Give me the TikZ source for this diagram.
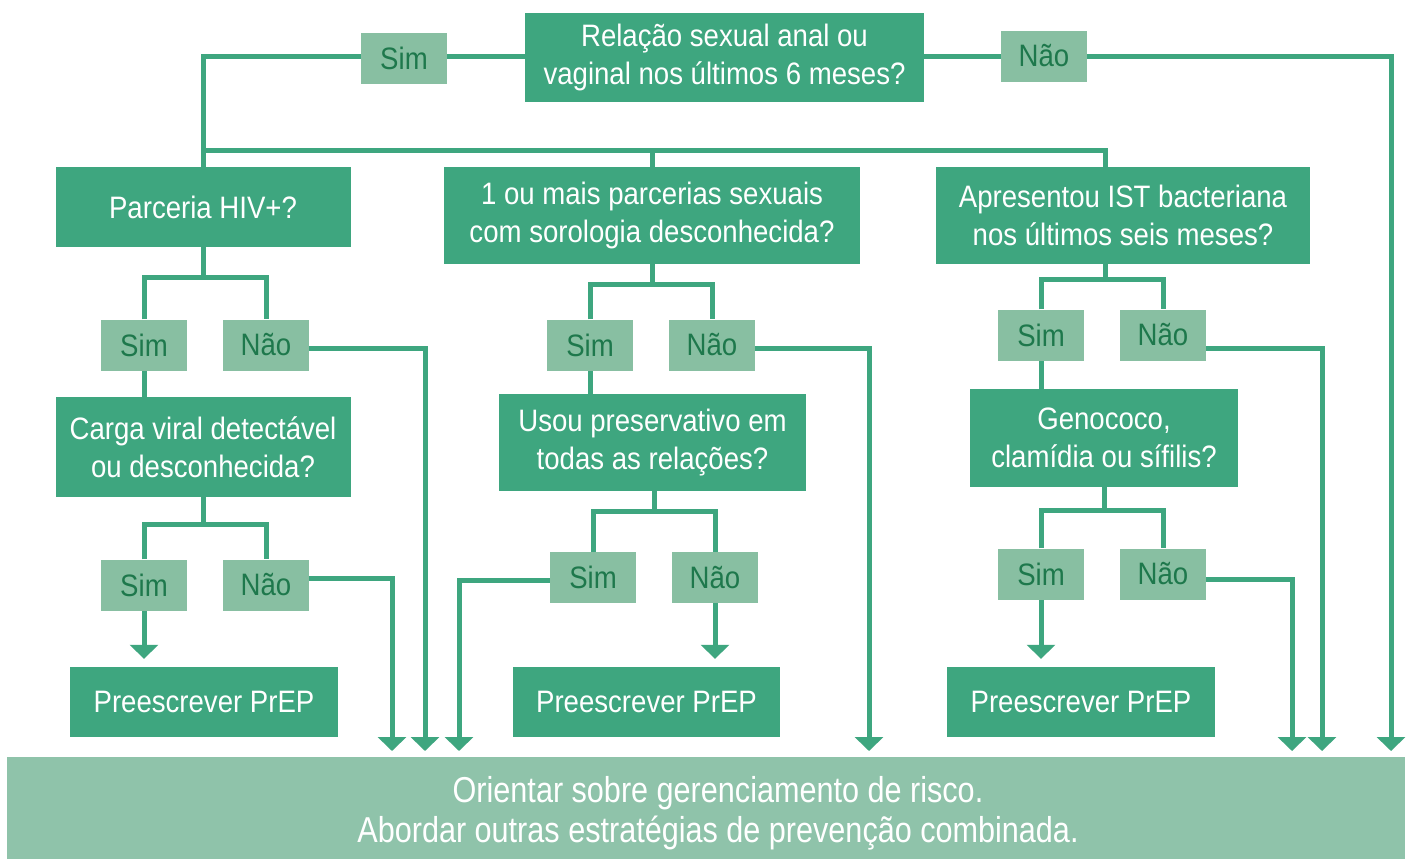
\documentclass[tikz,border=0pt]{standalone}
\usepackage{fontspec}
\setmainfont{Liberation Sans}[FakeStretch=0.89]
\newfontfamily\botfont{Liberation Sans}[FakeStretch=0.85]
\usetikzlibrary{arrows.meta,backgrounds,calc}
\definecolor{dk}{RGB}{62,166,127}
\definecolor{lt}{RGB}{136,191,162}
\definecolor{bt}{RGB}{143,195,170}
\definecolor{tx}{RGB}{30,120,76}
\begin{document}
\begin{tikzpicture}[x=1pt,y=-1pt,
  txt/.style={font=\fontsize{31}{38}\selectfont},
  box/.style={txt,fill=dk,text=white,inner sep=0pt,align=center},
  lab/.style={txt,fill=lt,text=tx,inner sep=0pt,minimum width=86pt,minimum height=51pt},
  con/.style={draw=dk,line width=5pt},
  arr/.style={con,-{Triangle[width=28pt,length=14pt]}}]
\useasboundingbox (0,0) rectangle (1412,860);
% nodes
\node[box,minimum width=399pt,minimum height=89pt] (q0) at (724.5,57.5) {Relação sexual anal ou\\vaginal nos últimos 6 meses?};
\node[lab] (s0) at (404,58.5) {Sim};
\node[lab] (n0) at (1044,56) {Não};
\node[box,minimum width=295pt,minimum height=80pt] (qA) at (203,207) {Parceria HIV+?};
\node[box,minimum width=416pt,minimum height=97pt] (qB) at (652,215.5) {1 ou mais parcerias sexuais\\com sorologia desconhecida?};
\node[box,minimum width=374pt,minimum height=97pt] (qC) at (1123,215.5) {Apresentou IST bacteriana\\nos últimos seis meses?};
\node[lab] (sA) at (144,345) {Sim};
\node[lab] (nA) at (266,345) {Não};
\node[box,minimum width=295pt,minimum height=100pt] (qA2) at (203,447) {Carga viral detectável\\ou desconhecida?};
\node[lab] (sA2) at (144,585) {Sim};
\node[lab] (nA2) at (266,585) {Não};
\node[box,minimum width=268pt,minimum height=70pt] (pA) at (204,702) {Preescrever PrEP};
\node[lab] (sB) at (590,345) {Sim};
\node[lab] (nB) at (712,345) {Não};
\node[box,minimum width=307pt,minimum height=97pt] (qB2) at (652.5,442.5) {Usou preservativo em\\todas as relações?};
\node[lab] (sB2) at (593,577.5) {Sim};
\node[lab] (nB2) at (715,577.5) {Não};
\node[box,minimum width=267pt,minimum height=70pt] (pB) at (646.5,702) {Preescrever PrEP};
\node[lab] (sC) at (1041,335) {Sim};
\node[lab] (nC) at (1163,335) {Não};
\node[box,minimum width=268pt,minimum height=98pt] (qC2) at (1104,438) {Genococo,\\clamídia ou sífilis?};
\node[lab] (sC2) at (1041,574) {Sim};
\node[lab] (nC2) at (1163,574) {Não};
\node[box,minimum width=268pt,minimum height=70pt] (pC) at (1081,702) {Preescrever PrEP};
\node[fill=bt,minimum width=1398pt,minimum height=102pt,inner sep=0pt] (bot) at (706,808) {};
\node[font=\botfont\fontsize{36}{40}\selectfont,text=white,align=center,inner sep=0pt] (botT) at (718,813) {Orientar sobre gerenciamento de risco.\\Abordar outras estratégias de prevenção combinada.};
% junctions and tips
\coordinate (jT) at (652,150);
\coordinate (jTC) at (1105,150);
\coordinate (jA) at (203,277);
\coordinate (jA2) at (203,524);
\coordinate (jB) at (652,284);
\coordinate (jB2) at (654,511);
\coordinate (jC) at (1105,279);
\coordinate (jC2) at (1104,510);
\coordinate (tT) at (1391,751);
\coordinate (tA) at (425,751);
\coordinate (tA2) at (392,751);
\coordinate (tB) at (869,751);
\coordinate (tB1) at (459,751);
\coordinate (tC) at (1322,751);
\coordinate (tC2) at (1292,751);
\begin{scope}[on background layer]
\fill[white] (0,0) rectangle (1412,860);
% top
\draw[con] ([yshift=1pt]q0.west) -| (qA.north);
\draw[con] (qA.north |- jT) -- (jTC) -- (jTC |- qC.north);
\draw[con] (jT) -- (qB.north);
\draw[arr] ([yshift=1pt]q0.east) -| (tT);
% left column
\draw[con] (qA.south) -- (jA);
\draw[con] (sA.north) |- (jA) -| (nA.north);
\draw[con] (sA.south) -- (sA.south |- qA2.north);
\draw[arr] ([yshift=-3pt]nA.east) -| (tA);
\draw[con] (qA2.south) -- (jA2);
\draw[con] (sA2.north) |- (jA2) -| (nA2.north);
\draw[arr] (sA2.south) -- ($(sA2.south |- pA.north)+(0,-8)$);
\draw[arr] ([yshift=7pt]nA2.east) -| (tA2);
% middle column
\draw[con] (qB.south) -- (jB);
\draw[con] (sB.north) |- (jB) -| (nB.north);
\draw[con] (sB.south) -- (sB.south |- qB2.north);
\draw[arr] ([yshift=-3pt]nB.east) -| (tB);
\draw[con] (qB2.south -| jB2) -- (jB2);
\draw[con] (sB2.north) |- (jB2) -| (nB2.north);
\draw[arr] ([yshift=-2.5pt]sB2.west) -| (tB1);
\draw[arr] (nB2.south) -- ($(nB2.south |- pB.north)+(0,-8)$);
% right column
\draw[con] (qC.south -| jC) -- (jC);
\draw[con] (sC.north) |- (jC) -| (nC.north);
\draw[con] (sC.south) -- (sC.south |- qC2.north);
\draw[arr] ([yshift=-13pt]nC.east) -| (tC);
\draw[con] (qC2.south) -- (jC2);
\draw[con] (sC2.north) |- (jC2) -| (nC2.north);
\draw[arr] (sC2.south) -- ($(sC2.south |- pC.north)+(0,-8)$);
\draw[arr] ([yshift=-5pt]nC2.east) -| (tC2);
\end{scope}
\end{tikzpicture}
\end{document}
